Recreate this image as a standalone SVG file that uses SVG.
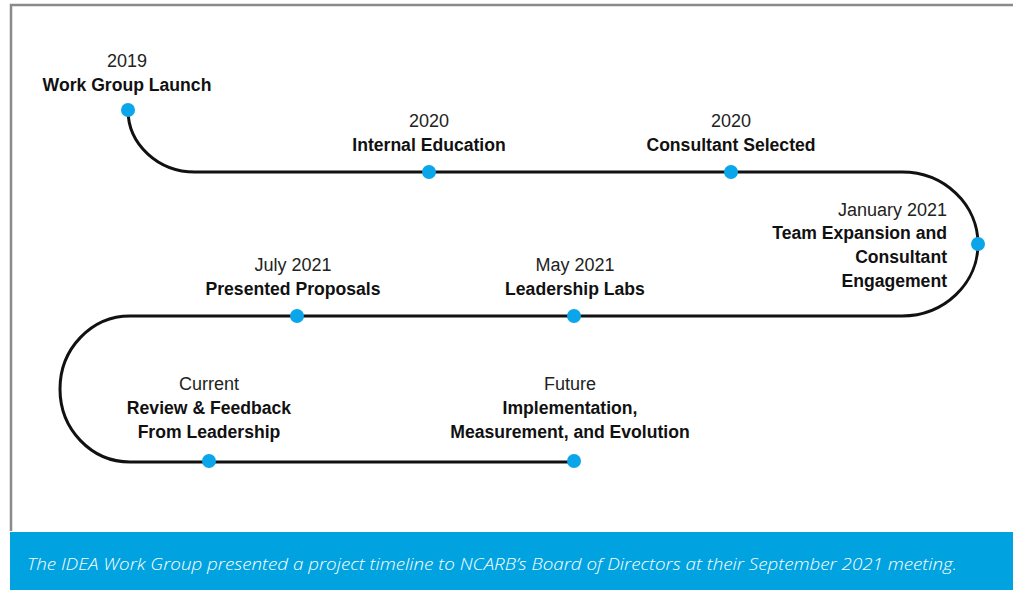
<svg xmlns="http://www.w3.org/2000/svg" width="1013" height="590" viewBox="0 0 1013 590">
<style>
.yr{font-family:"Liberation Sans",Arial,sans-serif;font-size:18px;fill:#222;text-anchor:middle}
.tt{font-family:"Liberation Sans",Arial,sans-serif;font-size:17.6px;font-weight:bold;fill:#111;text-anchor:middle}
.r{text-anchor:end}
.dot{fill:#0aa6e9}
.cap{font-family:"Open Sans","Liberation Sans",sans-serif;font-size:17px;font-style:italic;font-weight:300;fill:#fff}
</style>
<rect width="1013" height="590" fill="#fff"/>
<path d="M11,531 V5 H1013" fill="none" stroke="#8a8a8a" stroke-width="2.5"/>
<rect x="10" y="532" width="1003" height="58" fill="#00a3e0"/>
<text class="cap" x="27" y="570" textLength="930" lengthAdjust="spacingAndGlyphs">The IDEA Work Group presented a project timeline to NCARB’s Board of Directors at their September 2021 meeting.</text>
<g id="connectors">
<path d="M128,110 A67,62 0 0 0 195,172 H902 A76,72 0 0 1 902,316 H130 A70,73 0 0 0 130,462 H574" fill="none" stroke="#111" stroke-width="3"/>
</g>
<g id="n1"><circle class="dot" cx="128" cy="110" r="7"/><text class="yr" x="127" y="67">2019</text><text class="tt" x="127" y="91">Work Group Launch</text></g>
<g id="n2"><circle class="dot" cx="429" cy="172" r="7"/><text class="yr" x="429" y="127">2020</text><text class="tt" x="429" y="151">Internal Education</text></g>
<g id="n3"><circle class="dot" cx="731" cy="172" r="7"/><text class="yr" x="731" y="127">2020</text><text class="tt" x="731" y="151">Consultant Selected</text></g>
<g id="n4"><circle class="dot" cx="978" cy="244" r="7"/><text class="yr r" x="947" y="216">January 2021</text><text class="tt r" x="947" y="239">Team Expansion and</text><text class="tt r" x="947" y="263">Consultant</text><text class="tt r" x="947" y="287">Engagement</text></g>
<g id="n5"><circle class="dot" cx="574" cy="316" r="7"/><text class="yr" x="575" y="271">May 2021</text><text class="tt" x="575" y="295">Leadership Labs</text></g>
<g id="n6"><circle class="dot" cx="297" cy="316" r="7"/><text class="yr" x="293" y="271">July 2021</text><text class="tt" x="293" y="295">Presented Proposals</text></g>
<g id="n7"><circle class="dot" cx="209" cy="461" r="7"/><text class="yr" x="209" y="390">Current</text><text class="tt" x="209" y="414">Review &amp; Feedback</text><text class="tt" x="209" y="438">From Leadership</text></g>
<g id="n8"><circle class="dot" cx="574" cy="461" r="7"/><text class="yr" x="570" y="390">Future</text><text class="tt" x="570" y="414">Implementation,</text><text class="tt" x="570" y="438">Measurement, and Evolution</text></g>
</svg>
